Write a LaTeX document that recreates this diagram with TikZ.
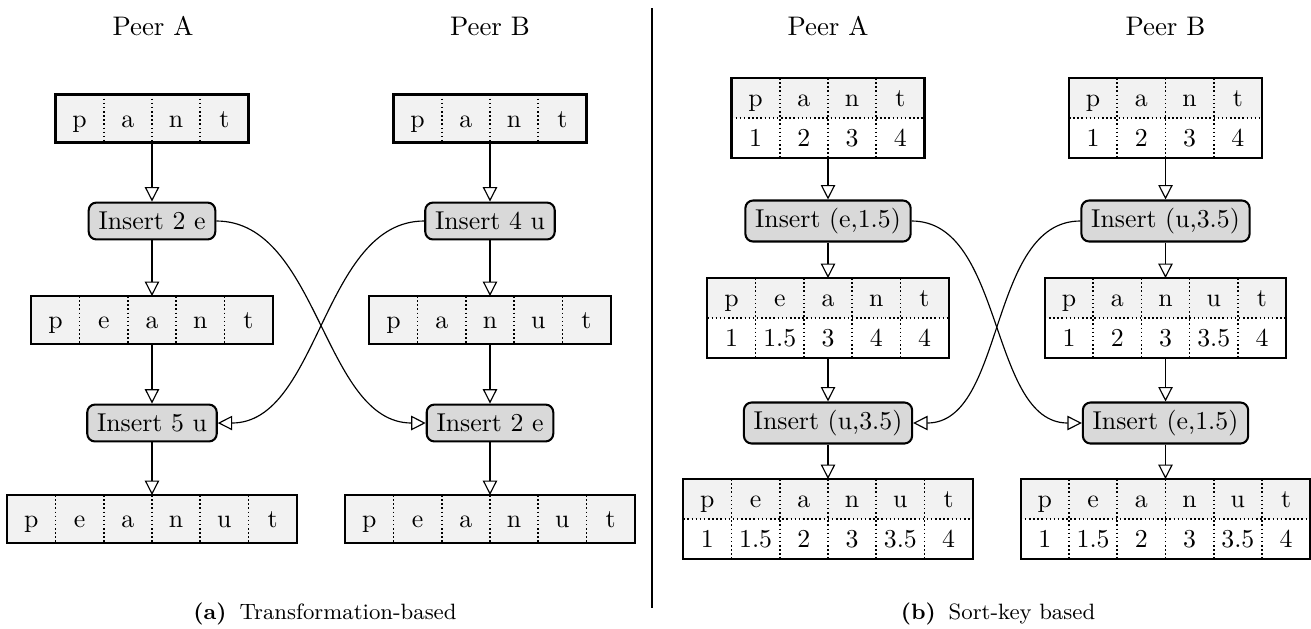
\documentclass[tikz,border=0pt]{standalone}
\usetikzlibrary{arrows.meta,calc}
\tikzset{
  frame/.style={draw, line width=0.8pt, inner sep=0pt, outer sep=0pt},
  sep/.style={densely dotted, line width=0.6pt},
  letter/.style={inner sep=0pt, text height=6.8pt, text depth=0pt},
  ins/.style={draw, line width=0.8pt, rounded corners=3pt, fill=black!15, inner xsep=3.8pt, inner ysep=0pt, minimum height=14.3pt},
  ins2/.style={ins, minimum height=15.9pt},
  flow/.style={line width=0.45pt, -{Triangle[open,length=5.6pt,width=5.6pt]}},
  lbl/.style={inner sep=0pt, font=\fontsize{10.4}{12}\selectfont},
  captxt/.style={inner sep=0pt, font=\fontsize{8.6}{10}\selectfont}
}
% one-row array: name, x, y, n, letters
\newcommand\arrone[5]{%
  \node[frame, fill=black!5, minimum width=#4*18.7pt, minimum height=18.6pt] (#1) at (#2,#3) {};
  \pgfmathtruncatemacro\nm{#4-1}
  \foreach \k in {1,...,\nm}
    \draw[sep] ($(#1.north west)+(\k*18.7pt,0pt)$) -- ($(#1.south west)+(\k*18.7pt,0pt)$);
  \foreach \l [count=\k] in {#5}
    \node[letter] (#1-\k) at ($(#1.west)+(\k*18.7pt-9.35pt,0pt)$) {\l};
  \draw[line width=0.8pt] (#1.north west) rectangle (#1.south east);
}
% two-row table: name, x, y, n, letters, keys
\newcommand\arrtwo[6]{%
  \node[frame, fill=white, minimum width=#4*18.7pt, minimum height=31pt] (#1) at (#2,#3) {};
  \fill[black!5] (#1.north west) rectangle (#1.east);
  \draw[sep] (#1.west) -- (#1.east);
  \pgfmathtruncatemacro\nm{#4-1}
  \foreach \k in {1,...,\nm}
    \draw[sep] ($(#1.north west)+(\k*18.7pt,0pt)$) -- ($(#1.south west)+(\k*18.7pt,0pt)$);
  \foreach \l [count=\k] in {#5}
    \node[letter] (#1-l\k) at ($(#1.west)+(\k*18.7pt-9.35pt,7.75pt)$) {\l};
  \foreach \l [count=\k] in {#6}
    \node[letter] (#1-n\k) at ($(#1.west)+(\k*18.7pt-9.35pt,-7.75pt)$) {\l};
  \draw[line width=0.8pt] (#1.north west) rectangle (#1.south east);
}
\begin{document}
\begin{tikzpicture}[x=0.3876pt, y=-0.3876pt]
\useasboundingbox (0,0) rectangle (1311,628);

% ---------- (a) Transformation-based ----------
\node[lbl] (pa1) at (153,26) {Peer A};
\node[lbl] (pb1) at (490,26) {Peer B};

\arrone{tA1}{152}{118.5}{4}{p,a,n,t}
\node[ins] (iA1) at (152,221) {Insert 2 e};
\arrone{tA2}{152}{320}{5}{p,e,a,n,t}
\node[ins] (iA2) at (152,423) {Insert 5 u};
\arrone{tA3}{152}{519}{6}{p,e,a,n,u,t}

\arrone{tB1}{490}{118.5}{4}{p,a,n,t}
\node[ins] (iB1) at (490,221) {Insert 4 u};
\arrone{tB2}{490}{320}{5}{p,a,n,u,t}
\node[ins] (iB2) at (490,423) {Insert 2 e};
\arrone{tB3}{490}{519}{6}{p,e,a,n,u,t}

\draw[flow] (tA1) -- (iA1);
\draw[flow] (iA1) -- (tA2);
\draw[flow] (tA2) -- (iA2);
\draw[flow] (iA2) -- (tA3);
\draw[flow] (tB1) -- (iB1);
\draw[flow] (iB1) -- (tB2);
\draw[flow] (tB2) -- (iB2);
\draw[flow] (iB2) -- (tB3);
\draw[flow] (iA1.east) to[out=0,in=180,looseness=0.9] (iB2.west);
\draw[flow] (iB1.west) to[out=180,in=0,looseness=0.9] (iA2.east);

\node[captxt] (capa) at (325,614) {\textbf{(a)}\hspace{5pt}Transformation-based};

% divider
\coordinate (d1) at (652,8);
\coordinate (d2) at (652,608);
\draw[line width=0.8pt] (d1) -- (d2);

% ---------- (b) Sort-key based ----------
\node[lbl] (pa2) at (828,26) {Peer A};
\node[lbl] (pb2) at (1165.5,26) {Peer B};

\arrtwo{sA1}{828}{118}{4}{p,a,n,t}{1,2,3,4}
\node[ins2] (jA1) at (828,221) {Insert (e,1.5)};
\arrtwo{sA2}{828}{318}{5}{p,e,a,n,t}{1,1.5,3,4,4}
\node[ins2] (jA2) at (828,423) {Insert (u,3.5)};
\arrtwo{sA3}{828}{519}{6}{p,e,a,n,u,t}{1,1.5,2,3,3.5,4}

\arrtwo{sB1}{1165.5}{118}{4}{p,a,n,t}{1,2,3,4}
\node[ins2] (jB1) at (1165.5,221) {Insert (u,3.5)};
\arrtwo{sB2}{1165.5}{318}{5}{p,a,n,u,t}{1,2,3,3.5,4}
\node[ins2] (jB2) at (1165.5,423) {Insert (e,1.5)};
\arrtwo{sB3}{1165.5}{519}{6}{p,e,a,n,u,t}{1,1.5,2,3,3.5,4}

\draw[flow] (sA1) -- (jA1);
\draw[flow] (jA1) -- (sA2);
\draw[flow] (sA2) -- (jA2);
\draw[flow] (jA2) -- (sA3);
\draw[flow] (sB1) -- (jB1);
\draw[flow] (jB1) -- (sB2);
\draw[flow] (sB2) -- (jB2);
\draw[flow] (jB2) -- (sB3);
\draw[flow] (jA1.east) to[out=0,in=180,looseness=0.9] (jB2.west);
\draw[flow] (jB1.west) to[out=180,in=0,looseness=0.9] (jA2.east);

\node[captxt] (capb) at (998,614) {\textbf{(b)}\hspace{5pt}Sort-key based};
\end{tikzpicture}
\end{document}
